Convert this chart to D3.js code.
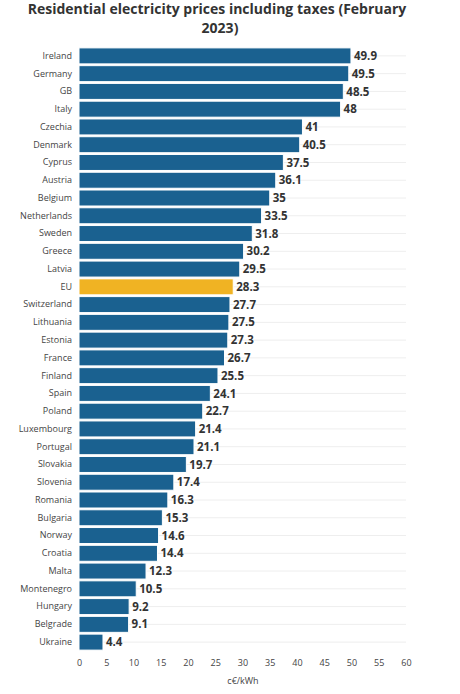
<!DOCTYPE html>
<html><head><meta charset="utf-8">
<script src="https://cdn.jsdelivr.net/npm/d3@7"></script>
<style>body{margin:0;background:#fff;font-family:"Open Sans",sans-serif;}</style>
</head><body><svg id="c" width="460" height="694"></svg>
<script>
const countries = ["Ireland","Germany","GB","Italy","Czechia","Denmark","Cyprus","Austria","Belgium","Netherlands","Sweden","Greece","Latvia","EU","Switzerland","Lithuania","Estonia","France","Finland","Spain","Poland","Luxembourg","Portugal","Slovakia","Slovenia","Romania","Bulgaria","Norway","Croatia","Malta","Montenegro","Hungary","Belgrade","Ukraine"];
const prices = [49.9,49.5,48.5,48,41,40.5,37.5,36.1,35,33.5,31.8,30.2,29.5,28.3,27.7,27.5,27.3,26.7,25.5,24.1,22.7,21.4,21.1,19.7,17.4,16.3,15.3,14.6,14.4,12.3,10.5,9.2,9.1,4.4];
const priceLabels = ["49.9","49.5","48.5","48","41","40.5","37.5","36.1","35","33.5","31.8","30.2","29.5","28.3","27.7","27.5","27.3","26.7","25.5","24.1","22.7","21.4","21.1","19.7","17.4","16.3","15.3","14.6","14.4","12.3","10.5","9.2","9.1","4.4"];
const xTicks = [0,5,10,15,20,25,30,35,40,45,50,55,60];

const svg = d3.select("#c");
const x = d3.scaleLinear().domain([0,60]).range([79,406]);
const y = d3.scaleBand().domain(countries).range([47,651]).paddingInner(0.1).paddingOuter(0.05);

svg.append("text").attr("x",217).attr("y",14).attr("text-anchor","middle")
  .attr("font-size",14).attr("font-weight",700).attr("fill","#333")
  .text("Residential electricity prices including taxes (February");
svg.append("text").attr("x",220).attr("y",33).attr("text-anchor","middle")
  .attr("font-size",14).attr("font-weight",700).attr("fill","#333").text("2023)");

// grid lines
svg.append("g").selectAll("line").data(countries).join("line")
  .attr("x1",x(0)).attr("x2",x(60))
  .attr("y1",d=>y(d)+y.bandwidth()/2).attr("y2",d=>y(d)+y.bandwidth()/2)
  .attr("stroke","#eee").attr("stroke-width",1);

svg.append("g").selectAll("rect").data(countries).join("rect")
  .attr("x",x(0)).attr("y",d=>y(d))
  .attr("width",(d,i)=>x(prices[i])-x(0)).attr("height",y.bandwidth())
  .attr("fill",d=>d==="EU"?"#f0b323":"#1a6190")
  .attr("stroke","#fff").attr("stroke-width",1);

svg.append("g").selectAll("text").data(countries).join("text")
  .attr("x",(d,i)=>x(prices[i])+3).attr("y",d=>y(d)+y.bandwidth()/2)
  .attr("dy","0.36em").attr("font-size",11.5).attr("font-weight",700).attr("fill","#333")
  .text((d,i)=>priceLabels[i]);

const ya = svg.append("g").attr("transform",`translate(${x(0)-3},0)`)
  .call(d3.axisLeft(y).tickSize(0).tickPadding(4));
ya.select(".domain").remove();
ya.selectAll("text").attr("font-size",9).attr("fill","#444").attr("font-family","'Open Sans',sans-serif");

const xa = svg.append("g").attr("transform","translate(0,654)")
  .call(d3.axisBottom(x).tickValues(xTicks).tickSize(0).tickPadding(6));
xa.select(".domain").remove();
xa.selectAll("text").attr("font-size",9).attr("fill","#444").attr("font-family","'Open Sans',sans-serif");

svg.append("text").attr("x",243).attr("y",684).attr("text-anchor","middle")
  .attr("font-size",9).attr("fill","#444").text("c€/kWh");
</script></body></html>
